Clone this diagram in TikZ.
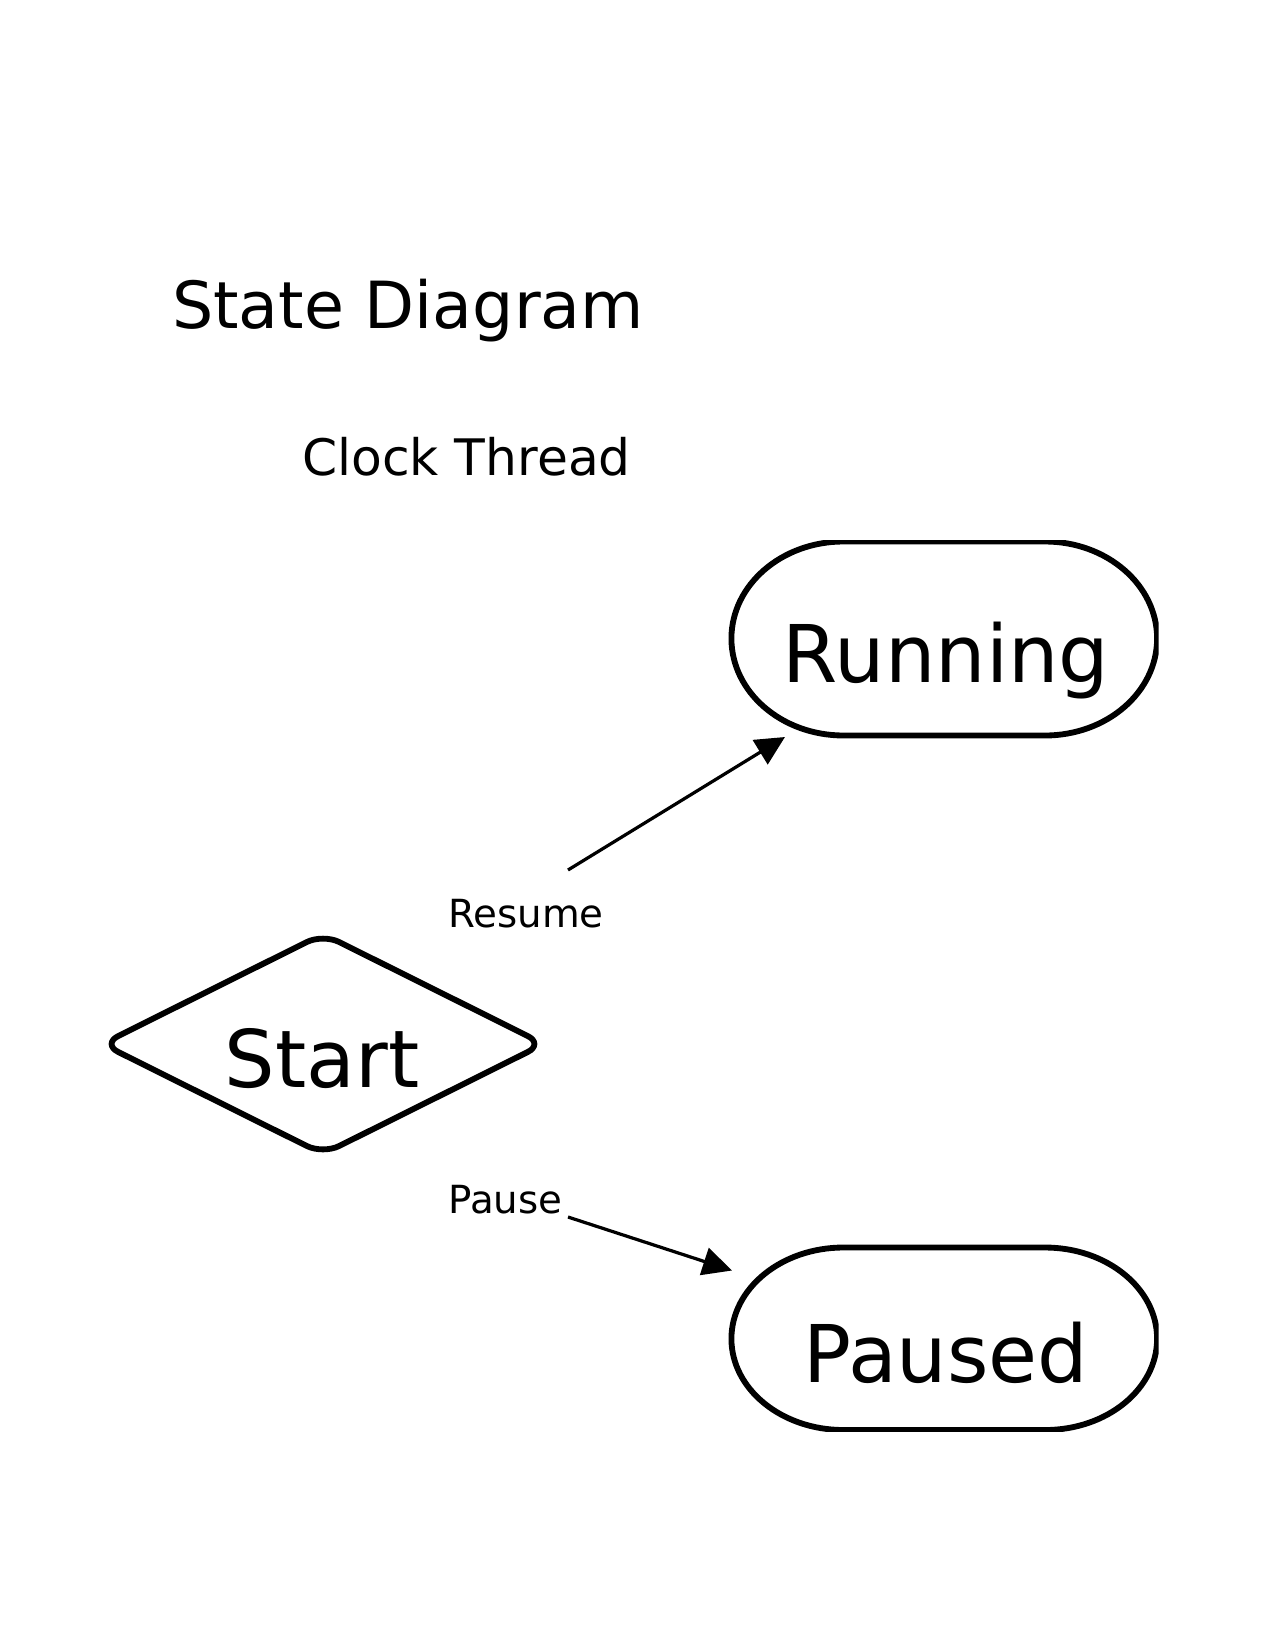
\documentclass[tikz,border=0pt]{standalone}
\usepackage{fontspec}
\setmainfont{DejaVu Sans}
\usetikzlibrary{arrows.meta,shapes.geometric}
\tikzset{
  shapeline/.style={draw=black, line width=2.8bp},
  startbox/.style={shapeline, diamond, inner sep=0pt, rounded corners=8.6bp,
    minimum width=213.1bp, minimum height=106.8bp},
  bigtext/.style={anchor=base, inner sep=0pt, font=\fontsize{38.2bp}{40bp}\selectfont},
  edgetext/.style={anchor=base, inner sep=0pt, font=\fontsize{18.6bp}{20bp}\selectfont},
  trans/.style={line width=1.55bp, -{Triangle[length=14bp, width=13.5bp]}}
}
\begin{document}
\begin{tikzpicture}[x=0.48bp, y=-0.48bp]
\useasboundingbox (0,0) rectangle (1275,1650);
\fill[white] (0,0) rectangle (1275,1650);

% titles
\node[anchor=base, inner sep=0pt, font=\fontsize{31.2bp}{34bp}\selectfont] (title) at (408,328) {State Diagram};
\node[anchor=base, inner sep=0pt, font=\fontsize{24.15bp}{27bp}\selectfont] (sub) at (466.5,475) {Clock Thread};

% Running
\begin{scope}
  \clip (600,540) rectangle (1158.5,800);
  \draw[shapeline] (843.5,541.5) -- (1045,541.5)
     arc[start angle=90, end angle=-90, x radius=53.8bp, y radius=46.56bp]
     -- (843.5,735.5)
     arc[start angle=270, end angle=90, x radius=53.8bp, y radius=46.56bp] -- cycle;
\end{scope}
\node[bigtext] (running) at (946,682) {Running};

% Paused
\begin{scope}
  \clip (600,1200) rectangle (1158.5,1431.5);
  \draw[shapeline] (843.5,1247.5) -- (1045,1247.5)
     arc[start angle=90, end angle=-90, x radius=53.8bp, y radius=43.8bp]
     -- (843.5,1430)
     arc[start angle=270, end angle=90, x radius=53.8bp, y radius=43.8bp] -- cycle;
\end{scope}
\node[bigtext] (paused) at (946,1382) {Paused};

% Start
\begin{scope}
  \clip (108.3,900) rectangle (600,1200);
  \node[startbox] (startshape) at (323,1044) {};
\end{scope}
\node[bigtext] (start) at (322,1087) {Start};

% transitions
\coordinate (rs) at (568,870);
\coordinate (re) at (785,737);
\coordinate (ps) at (568,1217);
\coordinate (pe) at (732,1270.5);
\draw[trans] (rs) -- (re);
\draw[trans] (ps) -- (pe);
\node[edgetext] (resume) at (526,927) {Resume};
\node[edgetext] (pause) at (505.5,1213) {Pause};
\end{tikzpicture}
\end{document}
